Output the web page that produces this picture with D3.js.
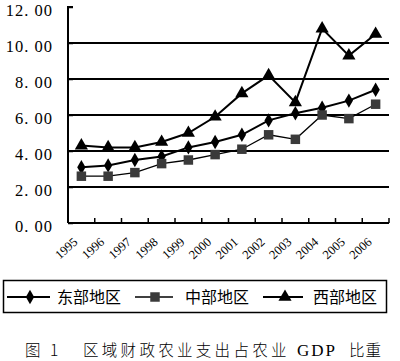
<!DOCTYPE html>
<html><head><meta charset="utf-8">
<script src="https://cdn.jsdelivr.net/npm/d3@7"></script>
<style>body{margin:0;background:#fff}svg{display:block}</style>
</head><body>
<script>
const years = ["1995","1996","1997","1998","1999","2000","2001","2002","2003","2004","2005","2006"];
const east = [3.1,3.2,3.5,3.7,4.2,4.5,4.9,5.7,6.1,6.4,6.8,7.4];
const central = [2.6,2.6,2.8,3.3,3.5,3.8,4.1,4.9,4.65,6.0,5.8,6.6];
const west = [4.3,4.2,4.2,4.5,5.0,5.9,7.2,8.2,6.7,10.8,9.3,10.5];
const yTicks = [0,2,4,6,8,10,12];
const seriesNames = ["东部地区","中部地区","西部地区"];
const captionNum = "图 1";
const captionParts = ["区域财政农业支出占农业","GDP","比重"];

const W=400,H=361;
const svg=d3.select("body").append("svg").attr("width",W).attr("height",H);
const pL=68,pR=389,pT=7,pB=223;
const x=d3.scaleBand().domain(years).range([pL,pR]);
const y=d3.scaleLinear().domain([0,12]).range([pB,pT]);

// gridlines
svg.append("g").selectAll("line").data(yTicks.filter(d=>d>0&&d<12)).join("line")
  .attr("x1",pL).attr("x2",pR).attr("y1",d=>y(d)).attr("y2",d=>y(d))
  .attr("stroke","#000").attr("stroke-width",2);

// y axis
const ya=svg.append("g").attr("transform",`translate(${pL},0)`)
  .call(d3.axisRight(y).tickValues(yTicks).tickSize(5).tickFormat(""));
ya.select(".domain").attr("stroke-width",2).attr("d",`M5,${pT}H0V${pB}`);
ya.selectAll(".tick line").attr("stroke-width",1.5);
svg.append("g").selectAll("text").data(yTicks).join("text")
  .attr("x",53).attr("y",d=>y(d)+3).attr("dy","0.35em").attr("text-anchor","end")
  .attr("font-family","Liberation Serif, DejaVu Serif, serif").attr("font-size",16.5)
  .attr("letter-spacing",1)
  .text(d=>d.toFixed(2).replace(".",". "));

// x axis
const xa=svg.append("g").attr("transform",`translate(0,${pB})`);
xa.append("line").attr("x1",pL).attr("x2",pR).attr("stroke","#000").attr("stroke-width",2);
xa.selectAll("line.t").data(years).join("line").attr("class","t")
  .attr("x1",d=>x(d)+x.bandwidth()).attr("x2",d=>x(d)+x.bandwidth()).attr("y1",0).attr("y2",-5)
  .attr("stroke","#000").attr("stroke-width",1.5);
xa.selectAll("text").data(years).join("text")
  .attr("transform",d=>`translate(${x(d)+x.bandwidth()/2-3},${20}) rotate(-42)`)
  .attr("text-anchor","end").attr("font-family","Liberation Serif, serif").attr("font-size",12.5)
  .text(d=>d);

const cx=d=>x(d)+x.bandwidth()/2;
const line=d3.line().x((v,i)=>cx(years[i])).y(v=>y(v));

const diamond=d3.symbol().type(d3.symbolDiamond).size(60)();
const square=d3.symbol().type(d3.symbolSquare).size(90)();
const tri=d3.symbol().type(d3.symbolTriangle).size(75)();

const series=[
  {vals:east,sym:diamond,fill:"#000",sw:2},
  {vals:central,sym:square,fill:"#3a3a3a",sw:1.3},
  {vals:west,sym:tri,fill:"#000",sw:2}
];
series.forEach(s=>{
  svg.append("path").attr("d",line(s.vals)).attr("fill","none").attr("stroke","#000").attr("stroke-width",s.sw);
  svg.append("g").selectAll("path").data(s.vals).join("path")
    .attr("transform",(v,i)=>`translate(${cx(years[i])},${y(v)})`)
    .attr("d",s.sym).attr("fill",s.fill);
});

// legend
const lg=svg.append("g");
lg.append("rect").attr("x",3.5).attr("y",280.5).attr("width",383).attr("height",32)
  .attr("fill","none").attr("stroke","#000").attr("stroke-width",1.5);
const lx=[[7,50,30,57],[135,173,155,185],[263,303,285,313]];
series.forEach((s,i)=>{
  const [a,b,c,t]=lx[i];
  lg.append("line").attr("x1",a).attr("x2",b).attr("y1",297).attr("y2",297).attr("stroke","#000").attr("stroke-width",s.sw);
  lg.append("path").attr("d",s.sym).attr("transform",`translate(${c},297)`).attr("fill",s.fill);
  lg.append("text").attr("x",t).attr("y",297).attr("dy","0.36em")
    .attr("font-family","Noto Sans CJK SC").attr("font-size",16).text(seriesNames[i]);
});

const cap=svg.append("text").attr("y",356)
  .attr("font-family","Noto Sans CJK SC").attr("font-size",15.5).attr("font-weight",300);
cap.append("tspan").attr("x",25).attr("letter-spacing",3).text(captionNum);
cap.append("tspan").attr("x",83).attr("letter-spacing",3.3).text(captionParts[0]);
cap.append("tspan").attr("x",297).attr("font-family","Liberation Serif, serif").attr("font-size",17).attr("letter-spacing",2).text(captionParts[1]);
cap.append("tspan").attr("x",349).attr("letter-spacing",1).text(captionParts[2]);
</script>
</body></html>
